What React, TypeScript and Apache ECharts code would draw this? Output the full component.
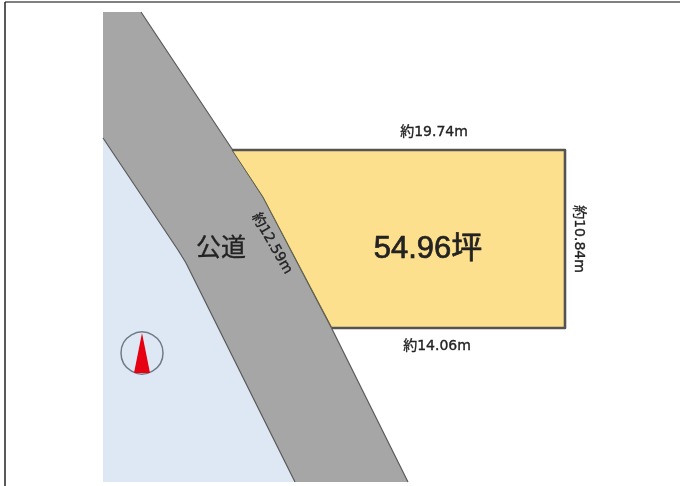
import React, { useEffect, useRef } from "react";
import * as echarts from "echarts";

const WIDTH = 680;
const HEIGHT = 486;

const frameLeft = [[5, 2], [5, 486]];
const frameTop = [[5, 2], [680, 2]];
const bluePlot = [[103, 138], [178, 250], [186, 263], [295, 482], [103, 482]];
const road = [[103, 12], [141, 12], [232, 149], [263, 197], [332, 329], [408, 482], [295, 482], [186, 263], [178, 250], [103, 138]];
const roadEdgeRight = [[141, 12], [232, 149], [263, 197], [332, 329], [408, 482]];
const roadEdgeLeft = [[103, 138], [178, 250], [186, 263], [295, 482]];
const parcel = [[232, 150], [565, 150], [565, 328], [332, 328], [263, 197]];
const parcelEdge = [[232, 150], [565, 150], [565, 328], [332, 328]];
const compassCentre = [142, 353];
const compassRadius = 21;
const compassNeedle = [[142, 333], [150, 373], [134, 373]];

const labels = [
  { text: "約19.74m", at: [434, 131], size: 14, angle: 0, family: '"DejaVu Sans"', bold: 0.35 },
  { text: "約14.06m", at: [437, 345], size: 14, angle: 0, family: '"DejaVu Sans"', bold: 0.35 },
  { text: "約10.84m", at: [580, 239], size: 14, angle: -90, family: '"DejaVu Sans"', bold: 0.35 },
  { text: "約12.59m", at: [273, 243], size: 14, angle: -60, family: '"DejaVu Sans"', bold: 0.35 },
  { text: "54.96坪", at: [428, 247], size: 31, angle: 0, family: '"Liberation Sans"', bold: 0.7 },
  { text: "公道", at: [221, 245], size: 25, angle: 0, family: '"Noto Sans CJK JP"', bold: 0.3 },
];

type Shape = { kind: string; pts?: number[][]; fill?: string; stroke?: string; lw?: number };
const shapes: Shape[] = [
  { kind: "line", pts: frameTop, stroke: "#808080", lw: 2 },
  { kind: "line", pts: frameLeft, stroke: "#222222", lw: 1.5 },
  { kind: "poly", pts: bluePlot, fill: "#dde8f4" },
  { kind: "poly", pts: road, fill: "#a6a6a6" },
  { kind: "line", pts: roadEdgeRight, stroke: "#5a5a5a", lw: 1.2 },
  { kind: "line", pts: roadEdgeLeft, stroke: "#5a5a5a", lw: 1.2 },
  { kind: "poly", pts: parcel, fill: "#fde08e", stroke: "#5f5f48", lw: 1 },
  { kind: "line", pts: parcelEdge, stroke: "#545454", lw: 2.6 },
  { kind: "circle", stroke: "#6f7b86", lw: 1.5 },
  { kind: "poly", pts: compassNeedle, fill: "#e60012" },
];

export default function App() {
  const ref = useRef<HTMLDivElement>(null);
  useEffect(() => {
    const chart = echarts.init(ref.current!, undefined, { renderer: "svg" });
    chart.setOption({
      animation: false,
      backgroundColor: "#ffffff",
      grid: { left: 0, right: 0, top: 0, bottom: 0 },
      xAxis: { type: "value", min: 0, max: WIDTH, show: false },
      yAxis: { type: "value", min: 0, max: HEIGHT, inverse: true, show: false },
      series: [
        {
          type: "custom",
          coordinateSystem: "cartesian2d",
          silent: true,
          clip: false,
          data: shapes.map((_, i) => [i, i]),
          renderItem: (params: any, api: any) => {
            const s = shapes[params.dataIndex];
            if (s.kind === "circle") {
              const c = api.coord(compassCentre);
              return {
                type: "circle",
                shape: { cx: c[0], cy: c[1], r: compassRadius },
                style: { fill: "none", stroke: s.stroke, lineWidth: s.lw },
              };
            }
            const points = s.pts!.map((p) => api.coord(p));
            if (s.kind === "line") {
              return {
                type: "polyline",
                shape: { points },
                style: { fill: "none", stroke: s.stroke, lineWidth: s.lw, lineJoin: "round" },
              };
            }
            return {
              type: "polygon",
              shape: { points },
              style: { fill: s.fill, stroke: s.stroke ?? "none", lineWidth: s.lw ?? 0 },
            };
          },
        },
        {
          type: "custom",
          coordinateSystem: "cartesian2d",
          silent: true,
          clip: false,
          data: labels.map((_, i) => [i, i]),
          renderItem: (params: any, api: any) => {
            const l = labels[params.dataIndex];
            const c = api.coord(l.at);
            return {
              type: "text",
              x: c[0],
              y: c[1],
              rotation: (l.angle * Math.PI) / 180,
              style: {
                text: l.text,
                fill: "#222222",
                stroke: "#222222",
                lineWidth: l.bold,
                font: `400 ${l.size}px ${l.family}, "Noto Sans CJK JP", sans-serif`,
                align: "center",
                verticalAlign: "middle",
              },
            };
          },
        },
      ],
    });
    return () => chart.dispose();
  }, []);
  return (
    <div
      ref={ref}
      style={{ position: "fixed", left: 0, top: 0, width: WIDTH, height: HEIGHT, background: "#fff", filter: "blur(0.6px)" }}
    />
  );
}
